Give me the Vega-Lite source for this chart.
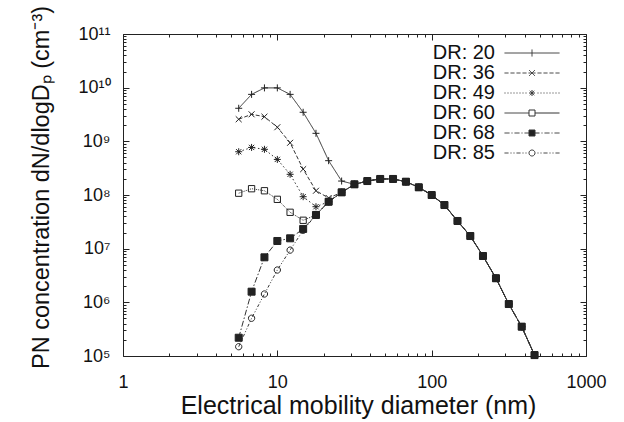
{
  "$schema": "https://vega.github.io/schema/vega-lite/v6.json",
  "autosize": {"type": "none"},
  "padding": {"left": 123, "top": 34, "right": 38, "bottom": 66},
  "width": 463,
  "height": 322,
  "background": "white",
  "config": {
    "font": "Liberation Sans",
    "view": {"stroke": "#222", "strokeWidth": 1},
    "axis": {"grid": false, "domain": false, "labelFont": "Liberation Sans", "titleFont": "Liberation Sans", "labelColor": "#111", "titleColor": "#111", "titleFontWeight": "normal", "tickColor": "#222", "tickWidth": 1, "labelFlush": false, "labelOverlap": false}
  },
  "data": {"values": [
    {"s":"DR: 20","d":5.62,"n":4.13e9},{"s":"DR: 20","d":6.81,"n":7.5e9},{"s":"DR: 20","d":8.25,"n":9.9e9},{"s":"DR: 20","d":10,"n":9.9e9},{"s":"DR: 20","d":12.1,"n":7.5e9},{"s":"DR: 20","d":14.7,"n":3.48e9},{"s":"DR: 20","d":17.8,"n":1.41e9},{"s":"DR: 20","d":21.5,"n":4.36e8},{"s":"DR: 20","d":26.1,"n":1.82e8},{"s":"DR: 20","d":31.6,"n":1.58e8},{"s":"DR: 20","d":38.3,"n":1.82e8},{"s":"DR: 20","d":46.4,"n":1.99e8},{"s":"DR: 20","d":56.2,"n":1.99e8},{"s":"DR: 20","d":68.1,"n":1.77e8},{"s":"DR: 20","d":82.5,"n":1.39e8},{"s":"DR: 20","d":100,"n":1.0e8},{"s":"DR: 20","d":121,"n":6.5e7},{"s":"DR: 20","d":147,"n":3.28e7},{"s":"DR: 20","d":178,"n":1.72e7},{"s":"DR: 20","d":215,"n":7.3e6},{"s":"DR: 20","d":261,"n":2.81e6},{"s":"DR: 20","d":316,"n":9.3e5},{"s":"DR: 20","d":383,"n":3.52e5},{"s":"DR: 20","d":464,"n":1.04e5},
    {"s":"DR: 36","d":5.62,"n":2.58e9},{"s":"DR: 36","d":6.81,"n":3.19e9},{"s":"DR: 36","d":8.25,"n":2.88e9},{"s":"DR: 36","d":10,"n":1.83e9},{"s":"DR: 36","d":12.1,"n":9.4e8},{"s":"DR: 36","d":14.7,"n":3.03e8},{"s":"DR: 36","d":17.8,"n":1.2e8},{"s":"DR: 36","d":21.5,"n":8.8e7},{"s":"DR: 36","d":26.1,"n":1.12e8},{"s":"DR: 36","d":31.6,"n":1.58e8},{"s":"DR: 36","d":38.3,"n":1.82e8},{"s":"DR: 36","d":46.4,"n":1.99e8},{"s":"DR: 36","d":56.2,"n":1.99e8},{"s":"DR: 36","d":68.1,"n":1.77e8},{"s":"DR: 36","d":82.5,"n":1.39e8},{"s":"DR: 36","d":100,"n":1.0e8},{"s":"DR: 36","d":121,"n":6.5e7},{"s":"DR: 36","d":147,"n":3.28e7},{"s":"DR: 36","d":178,"n":1.72e7},{"s":"DR: 36","d":215,"n":7.3e6},{"s":"DR: 36","d":261,"n":2.81e6},{"s":"DR: 36","d":316,"n":9.3e5},{"s":"DR: 36","d":383,"n":3.52e5},{"s":"DR: 36","d":464,"n":1.04e5},
    {"s":"DR: 49","d":5.62,"n":6.4e8},{"s":"DR: 49","d":6.81,"n":7.7e8},{"s":"DR: 49","d":8.25,"n":7.1e8},{"s":"DR: 49","d":10,"n":4.6e8},{"s":"DR: 49","d":12.1,"n":2.43e8},{"s":"DR: 49","d":14.7,"n":9.3e7},{"s":"DR: 49","d":17.8,"n":6.05e7},{"s":"DR: 49","d":21.5,"n":7.5e7},{"s":"DR: 49","d":26.1,"n":1.12e8},{"s":"DR: 49","d":31.6,"n":1.58e8},{"s":"DR: 49","d":38.3,"n":1.82e8},{"s":"DR: 49","d":46.4,"n":1.99e8},{"s":"DR: 49","d":56.2,"n":1.99e8},{"s":"DR: 49","d":68.1,"n":1.77e8},{"s":"DR: 49","d":82.5,"n":1.39e8},{"s":"DR: 49","d":100,"n":1.0e8},{"s":"DR: 49","d":121,"n":6.5e7},{"s":"DR: 49","d":147,"n":3.28e7},{"s":"DR: 49","d":178,"n":1.72e7},{"s":"DR: 49","d":215,"n":7.3e6},{"s":"DR: 49","d":261,"n":2.81e6},{"s":"DR: 49","d":316,"n":9.3e5},{"s":"DR: 49","d":383,"n":3.52e5},{"s":"DR: 49","d":464,"n":1.04e5},
    {"s":"DR: 60","d":5.62,"n":1.08e8},{"s":"DR: 60","d":6.81,"n":1.31e8},{"s":"DR: 60","d":8.25,"n":1.2e8},{"s":"DR: 60","d":10,"n":8.3e7},{"s":"DR: 60","d":12.1,"n":4.76e7},{"s":"DR: 60","d":14.7,"n":3.38e7},{"s":"DR: 60","d":17.8,"n":4.25e7},{"s":"DR: 60","d":21.5,"n":7.5e7},{"s":"DR: 60","d":26.1,"n":1.12e8},{"s":"DR: 60","d":31.6,"n":1.58e8},{"s":"DR: 60","d":38.3,"n":1.82e8},{"s":"DR: 60","d":46.4,"n":1.99e8},{"s":"DR: 60","d":56.2,"n":1.99e8},{"s":"DR: 60","d":68.1,"n":1.77e8},{"s":"DR: 60","d":82.5,"n":1.39e8},{"s":"DR: 60","d":100,"n":1.0e8},{"s":"DR: 60","d":121,"n":6.5e7},{"s":"DR: 60","d":147,"n":3.28e7},{"s":"DR: 60","d":178,"n":1.72e7},{"s":"DR: 60","d":215,"n":7.3e6},{"s":"DR: 60","d":261,"n":2.81e6},{"s":"DR: 60","d":316,"n":9.3e5},{"s":"DR: 60","d":383,"n":3.52e5},{"s":"DR: 60","d":464,"n":1.04e5},
    {"s":"DR: 85","d":5.62,"n":1.49e5},{"s":"DR: 85","d":6.81,"n":5.05e5},{"s":"DR: 85","d":8.25,"n":1.43e6},{"s":"DR: 85","d":10,"n":4.0e6},{"s":"DR: 85","d":12.1,"n":9.4e6},{"s":"DR: 85","d":14.7,"n":2.2e7},{"s":"DR: 85","d":17.8,"n":4.25e7},{"s":"DR: 85","d":21.5,"n":7.5e7},{"s":"DR: 85","d":26.1,"n":1.12e8},{"s":"DR: 85","d":31.6,"n":1.58e8},{"s":"DR: 85","d":38.3,"n":1.82e8},{"s":"DR: 85","d":46.4,"n":1.99e8},{"s":"DR: 85","d":56.2,"n":1.99e8},{"s":"DR: 85","d":68.1,"n":1.77e8},{"s":"DR: 85","d":82.5,"n":1.39e8},{"s":"DR: 85","d":100,"n":1.0e8},{"s":"DR: 85","d":121,"n":6.5e7},{"s":"DR: 85","d":147,"n":3.28e7},{"s":"DR: 85","d":178,"n":1.72e7},{"s":"DR: 85","d":215,"n":7.3e6},{"s":"DR: 85","d":261,"n":2.81e6},{"s":"DR: 85","d":316,"n":9.3e5},{"s":"DR: 85","d":383,"n":3.52e5},{"s":"DR: 85","d":464,"n":1.04e5},
    {"s":"DR: 68","d":5.62,"n":2.19e5},{"s":"DR: 68","d":6.81,"n":1.58e6},{"s":"DR: 68","d":8.25,"n":6.9e6},{"s":"DR: 68","d":10,"n":1.39e7},{"s":"DR: 68","d":12.1,"n":1.56e7},{"s":"DR: 68","d":14.7,"n":2.33e7},{"s":"DR: 68","d":17.8,"n":4.25e7},{"s":"DR: 68","d":21.5,"n":7.5e7},{"s":"DR: 68","d":26.1,"n":1.12e8},{"s":"DR: 68","d":31.6,"n":1.58e8},{"s":"DR: 68","d":38.3,"n":1.82e8},{"s":"DR: 68","d":46.4,"n":1.99e8},{"s":"DR: 68","d":56.2,"n":1.99e8},{"s":"DR: 68","d":68.1,"n":1.77e8},{"s":"DR: 68","d":82.5,"n":1.39e8},{"s":"DR: 68","d":100,"n":1.0e8},{"s":"DR: 68","d":121,"n":6.5e7},{"s":"DR: 68","d":147,"n":3.28e7},{"s":"DR: 68","d":178,"n":1.72e7},{"s":"DR: 68","d":215,"n":7.3e6},{"s":"DR: 68","d":261,"n":2.81e6},{"s":"DR: 68","d":316,"n":9.3e5},{"s":"DR: 68","d":383,"n":3.52e5},{"s":"DR: 68","d":464,"n":1.04e5}
  ]},
  "resolve": {"scale": {"x": "shared", "y": "shared"}, "axis": {"x": "independent", "y": "independent"}},
  "layer": [
    {
      "mark": {"type": "line", "strokeWidth": 1},
      "encoding": {
        "x": {"field": "d", "type": "quantitative", "scale": {"type": "log", "domain": [1, 1000], "nice": false},
          "axis": {"orient": "bottom", "values": [1, 10, 100, 1000], "format": "d", "tickSize": -6, "labelPadding": 23, "labelFontSize": 18, "title": "Electrical mobility diameter (nm)", "titleFontSize": 25, "titleBaseline": "alphabetic", "titleX": 235, "titleY": 57}},
        "y": {"field": "n", "type": "quantitative", "scale": {"type": "log", "domain": [1e5, 1e11], "nice": false},
          "axis": {"orient": "left", "values": [1e5, 1e6, 1e7, 1e8, 1e9, 1e10, 1e11], "labelExpr": "'10' + ['⁰','¹','²','³','⁴','⁵','⁶','⁷','⁸','⁹','¹⁰','¹¹'][round(log(datum.value)/LN10)]", "tickSize": -6, "labelPadding": 19, "labelFontSize": 18, "title": "PN concentration dN/dlogDₚ (cm⁻³)", "titleFontSize": 23.5, "titleBaseline": "alphabetic", "titleAngle": -90, "titleX": -75, "titleY": 153}},
        "strokeDash": {"field": "s", "type": "nominal", "scale": {"domain": ["DR: 20", "DR: 36", "DR: 49", "DR: 60", "DR: 68", "DR: 85"], "range": [[1, 0], [4, 2], [1.5, 2.5], [1, 1], [6, 2, 1.5, 2], [3, 2, 1, 2, 1, 2]]}, "legend": null},
        "stroke": {"field": "s", "type": "nominal", "scale": {"range": ["#333", "#333", "#333", "#333", "#333", "#333"]},
          "legend": {"orient": "none", "legendX": 399, "legendY": 9, "title": null, "labelAlign": "right", "labelOffset": -47, "labelFontSize": 20, "labelFont": "Liberation Sans", "labelColor": "#111", "symbolSize": 100, "rowPadding": -0.5,
            "encode": {"symbols": {"update": {
              "shape": {"signal": "{'DR: 20':'M-5.5,0H5.5M0,-0.7V0.7','DR: 36':'M-5.5,0H-4.7M-4.3,0H-3.5M-3.1,0H-2.3M-1.9,0H-1.1M-0.7,0H0.7M1.1,0H1.9M2.3,0H3.1M3.5,0H4.3M4.7,0H5.5M-0.6,-0.6L0.6,0.6M-0.6,0.6L0.6,-0.6','DR: 49':'M-5.5,0H-5.3M-4.9,0H-4.7M-4.3,0H-4.1M-3.7,0H-3.5M-3.1,0H-2.9M-2.5,0H-2.3M-1.9,0H-1.7M-1.3,0H-1.1M1.1,0H1.3M1.7,0H1.9M2.3,0H2.5M2.9,0H3.1M3.5,0H3.7M4.1,0H4.3M4.7,0H4.9M5.3,0H5.5M-0.6,0H0.6M0,-0.6V0.6M-0.45,-0.45L0.45,0.45M-0.45,0.45L0.45,-0.45','DR: 60':'M-5.5,0H-0.6M0.6,0H5.5M-0.6,-0.6H0.6V0.6H-0.6Z','DR: 68':'M-5.5,0H-4.5M-4.1,0H-3.9M-3.5,0H-2.5M-2.1,0H-1.9M-1.5,0H-0.6M0.6,0H1.5M1.9,0H2.1M2.5,0H3.5M3.9,0H4.1M4.5,0H5.5M-0.6,-0.6H0.6V0.6H-0.6Z','DR: 85':'M-5.5,0H-4.7M-4.3,0H-4.1M-3.7,0H-3.5M-3.1,0H-2.3M-1.9,0H-1.7M-1.3,0H-1.1M1.1,0H1.3M1.7,0H1.9M2.3,0H3.1M3.5,0H3.7M4.1,0H4.3M4.7,0H5.5M0.6,0A0.6,0.6,0,1,1,-0.6,0A0.6,0.6,0,1,1,0.6,0Z'}[datum.value]"},
              "size": {"value": 100},
              "strokeWidth": {"value": 1},
              "strokeDash": {"value": [1, 0]},
              "fill": {"signal": "datum.value === 'DR: 68' ? '#222' : 'transparent'"},
              "opacity": {"value": 1}
            }}}}}
      }
    },
    {
      "mark": {"type": "point", "stroke": "#222", "strokeWidth": 1, "size": 49, "opacity": 1},
      "encoding": {
        "x": {"field": "d", "type": "quantitative", "axis": {"orient": "bottom", "values": [2,3,4,5,6,7,8,9,20,30,40,50,60,70,80,90,200,300,400,500,600,700,800,900], "labels": false, "tickSize": -3, "title": null}},
        "y": {"field": "n", "type": "quantitative", "axis": {"orient": "left", "values": [2e5,3e5,4e5,5e5,6e5,7e5,8e5,9e5,2e6,3e6,4e6,5e6,6e6,7e6,8e6,9e6,2e7,3e7,4e7,5e7,6e7,7e7,8e7,9e7,2e8,3e8,4e8,5e8,6e8,7e8,8e8,9e8,2e9,3e9,4e9,5e9,6e9,7e9,8e9,9e9,2e10,3e10,4e10,5e10,6e10,7e10,8e10,9e10], "labels": false, "tickSize": -3, "title": null}},
        "shape": {"field": "s", "type": "nominal", "scale": {"domain": ["DR: 20", "DR: 36", "DR: 49", "DR: 60", "DR: 68", "DR: 85"], "range": ["M-1,0H1M0,-1V1", "M-0.85,-0.85L0.85,0.85M-0.85,0.85L0.85,-0.85", "M-1,0H1M0,-1V1M-0.75,-0.75L0.75,0.75M-0.75,0.75L0.75,-0.75", "M-0.9,-0.9H0.9V0.9H-0.9Z", "M-1,-1H1V1H-1Z", "M0.9,0A0.9,0.9,0,1,1,-0.9,0A0.9,0.9,0,1,1,0.9,0Z"]}, "legend": null},
        "fill": {"condition": {"test": "datum.s === 'DR: 68'", "value": "#222"}, "value": "transparent"}
      }
    },
    {
      "mark": {"type": "point", "opacity": 0},
      "encoding": {
        "x": {"field": "d", "type": "quantitative", "axis": {"orient": "top", "values": [1, 10, 100, 1000], "labels": false, "tickSize": -6, "title": null}},
        "y": {"field": "n", "type": "quantitative", "axis": {"orient": "right", "values": [1e5, 1e6, 1e7, 1e8, 1e9, 1e10, 1e11], "labels": false, "tickSize": -6, "title": null}}
      }
    },
    {
      "mark": {"type": "point", "opacity": 0},
      "encoding": {
        "x": {"field": "d", "type": "quantitative", "axis": {"orient": "top", "values": [2,3,4,5,6,7,8,9,20,30,40,50,60,70,80,90,200,300,400,500,600,700,800,900], "labels": false, "tickSize": -3, "title": null}},
        "y": {"field": "n", "type": "quantitative", "axis": {"orient": "right", "values": [2e5,3e5,4e5,5e5,6e5,7e5,8e5,9e5,2e6,3e6,4e6,5e6,6e6,7e6,8e6,9e6,2e7,3e7,4e7,5e7,6e7,7e7,8e7,9e7,2e8,3e8,4e8,5e8,6e8,7e8,8e8,9e8,2e9,3e9,4e9,5e9,6e9,7e9,8e9,9e9,2e10,3e10,4e10,5e10,6e10,7e10,8e10,9e10], "labels": false, "tickSize": -3, "title": null}}
      }
    }
  ]
}
